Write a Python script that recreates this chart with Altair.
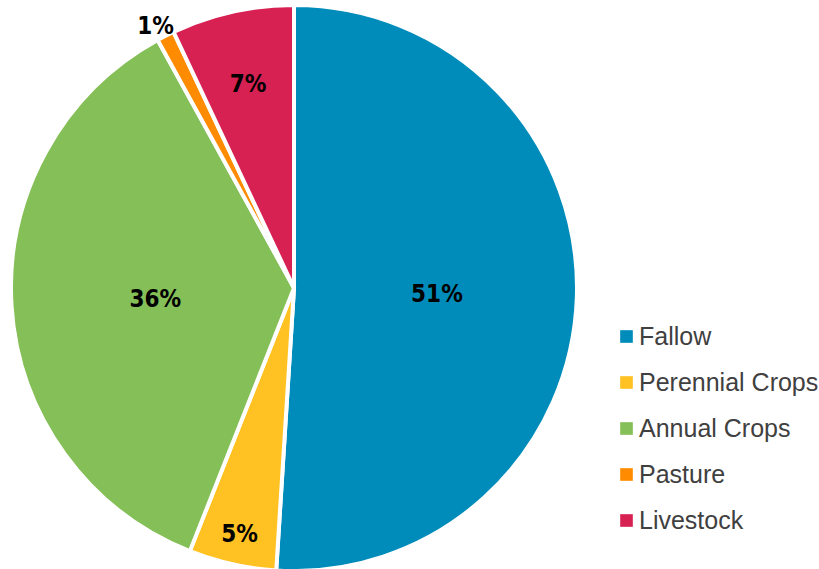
import altair as alt
import pandas as pd

categories = ["Fallow", "Perennial Crops", "Annual Crops", "Pasture", "Livestock"]
values = [51, 5, 36, 1, 7]
labels = ["51%", "5%", "36%", "1%", "7%"]
colors = ["#008CBA", "#FFC222", "#85BF57", "#FF8C00", "#D72153"]

df = pd.DataFrame({
    "category": categories,
    "value": values,
    "label": labels,
    "idx": list(range(len(categories))),
})

CX, CY, R = 294, 288, 283

pie = alt.Chart(df).mark_arc(outerRadius=R, stroke="white", strokeWidth=4).encode(
    theta=alt.Theta("value:Q", stack=True),
    order=alt.Order("idx:Q"),
    color=alt.Color(
        "category:N",
        scale=alt.Scale(domain=categories, range=colors),
        sort=categories,
        legend=alt.Legend(
            title=None,
            orient="none",
            legendX=614,
            legendY=324,
            symbolType="square",
            symbolSize=160,
            symbolStrokeWidth=0,
            labelFontSize=25,
            labelFont="Arial, Liberation Sans, Helvetica, sans-serif",
            labelColor="#404040",
            labelOffset=0,
            labelLimit=400,
            rowPadding=20,
            padding=0,
        ),
    ),
    x=alt.value(CX),
    y=alt.value(CY),
)

text = alt.Chart(df).transform_window(
    cum="sum(value)", sort=[alt.SortField("idx")]
).transform_joinaggregate(
    total="sum(value)"
).transform_calculate(
    mid="(datum.cum - datum.value / 2) / datum.total * 2 * PI - (datum.category == 'Pasture' ? 0.012 : 0)",
    lr="datum.category == 'Fallow' ? 143 : datum.category == 'Annual Crops' ? 139 : datum.category == 'Perennial Crops' ? 250 : datum.category == 'Livestock' ? 211 : 298",
).mark_text(
    font="DejaVu Sans Condensed, Roboto Condensed, Liberation Sans Narrow, Roboto, sans-serif",
    fontWeight="bold",
    fontSize=24,
    color="black",
    align="center",
    baseline="middle",
).encode(
    text="label:N",
    theta=alt.Theta("mid:Q", scale=None),
    radius=alt.Radius("lr:Q", scale=None),
    x=alt.value(CX),
    y=alt.value(CY + 3),
)

chart = alt.layer(pie, text).properties(
    width=819, height=569, padding=0, autosize=alt.AutoSizeParams(type="none")
).configure_view(stroke=None)

chart.save("out.html", embed_options={"renderer": "svg", "actions": False})
